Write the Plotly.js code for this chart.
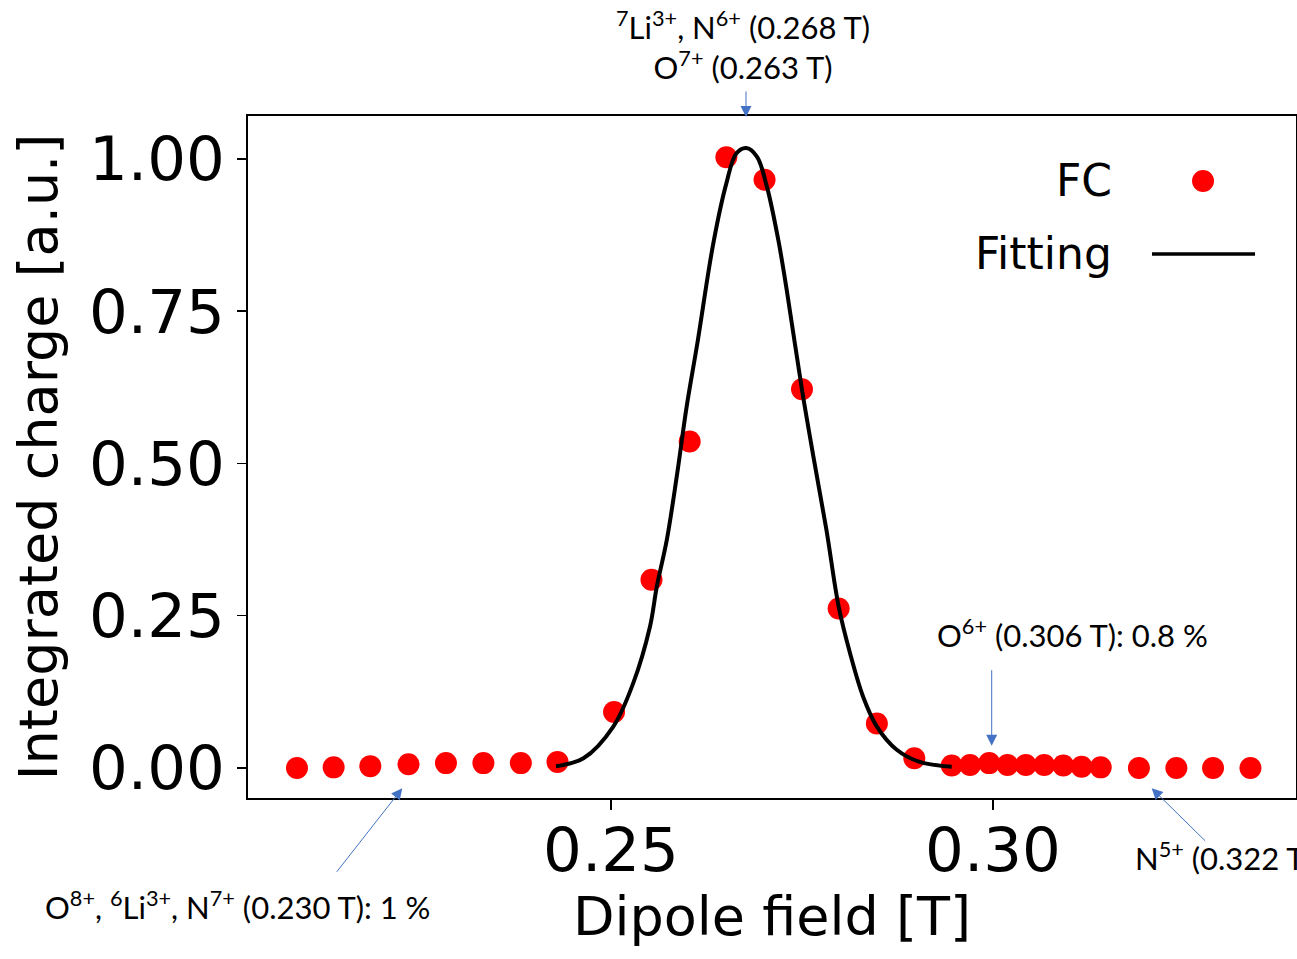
<!DOCTYPE html>
<html>
<head>
<meta charset="utf-8">
<script src="https://cdn.plot.ly/plotly-3.0.1.min.js"></script>
<style>
  html, body { margin: 0; padding: 0; background: #ffffff; }
  #chart { width: 1297px; height: 959px; }
</style>
</head>
<body>
<div id="chart"></div>
<script>
// Faraday cup (FC) measured points
const fcField = [0.2089, 0.2137, 0.2185, 0.2235, 0.2284, 0.2333, 0.2382, 0.2430,
  0.2504, 0.2553, 0.2603, 0.2651, 0.2701, 0.2750, 0.2798, 0.2848, 0.2897,
  0.2946, 0.2970, 0.2995, 0.3019, 0.3043, 0.3067, 0.3092, 0.3116, 0.3141,
  0.3191, 0.3240, 0.3288, 0.3337];
const fcCharge = [0.000, 0.001, 0.003, 0.006, 0.008, 0.008, 0.008, 0.010,
  0.092, 0.309, 0.536, 1.003, 0.966, 0.622, 0.262, 0.073, 0.016,
  0.004, 0.005, 0.008, 0.005, 0.005, 0.005, 0.004, 0.002, 0.001,
  0.000, 0.000, 0.000, 0.000];

// Fitting curve
const fitField = [0.2428, 0.2464, 0.2503, 0.2529, 0.2551, 0.2560, 0.2573, 0.2586,
  0.2599, 0.2613, 0.2634, 0.2651, 0.2664, 0.2677, 0.2691, 0.2704, 0.2719,
  0.2730, 0.2750, 0.2765, 0.2782, 0.2798, 0.2813, 0.2830, 0.2848, 0.2874,
  0.2904, 0.2946];
const fitCharge = [0.003, 0.016, 0.068, 0.139, 0.232, 0.298, 0.374, 0.478,
  0.593, 0.697, 0.862, 0.960, 1.009, 1.018, 1.004, 0.955, 0.867,
  0.785, 0.621, 0.511, 0.391, 0.265, 0.188, 0.117, 0.068, 0.030,
  0.010, 0.002];

const xTicks = [0.25, 0.30];
const yTicks = [0.00, 0.25, 0.50, 0.75, 1.00];
const legendLabels = ['FC', 'Fitting'];

const notes = {
  top: '<sup>7</sup>Li<sup>3+</sup>, N<sup>6+</sup> (0.268 T)<br>O<sup>7+</sup> (0.263 T)',
  o6: 'O<sup>6+</sup> (0.306 T): 0.8 %',
  o8: 'O<sup>8+</sup>, <sup>6</sup>Li<sup>3+</sup>, N<sup>7+</sup> (0.230 T): 1 %',
  n5: 'N<sup>5+</sup> (0.322 T)'
};

const blue = '#4472C4';
const noteFont = {family: 'Lato, "Open Sans", sans-serif', size: 31, color: '#000000'};
const legFont = {family: '"DejaVu Sans", sans-serif', size: 44, color: '#000000'};

const traces = [
  {
    x: fcField, y: fcCharge, type: 'scatter', mode: 'markers', name: legendLabels[0],
    marker: {color: '#FF0000', size: 22}, showlegend: false, cliponaxis: false
  },
  {
    x: fitField, y: fitCharge, type: 'scatter', mode: 'lines', name: legendLabels[1],
    line: {color: '#000000', width: 4, shape: 'spline', smoothing: 1.0}, showlegend: false
  }
];

function arrow(x, y, ax, ay) {
  return {x: x, y: y, xref: 'x', yref: 'y', ax: ax, ay: ay, text: ' ', showarrow: true,
    arrowhead: 2, arrowsize: 2.2, arrowwidth: 1, arrowcolor: blue, standoff: 0, startstandoff: 0};
}

const layout = {
  width: 1297, height: 959,
  margin: {l: 248, r: 1, t: 116, b: 161, pad: 0},
  paper_bgcolor: '#ffffff', plot_bgcolor: '#ffffff',
  showlegend: false,
  font: {family: '"DejaVu Sans", sans-serif', color: '#000000'},
  xaxis: {
    range: [0.20249, 0.33966], tickvals: xTicks, tickformat: '.2f',
    showgrid: false, zeroline: false, showline: true, mirror: true,
    linecolor: '#000000', linewidth: 2,
    ticks: 'outside', ticklen: 10, tickwidth: 1.5, tickcolor: '#000000',
    ticklabelstandoff: -12,
    tickfont: {family: '"DejaVu Sans", sans-serif', size: 61, color: '#000000'},
    title: {text: 'Dipole field [T]', font: {family: '"DejaVu Sans", sans-serif', size: 54, color: '#000000'}, standoff: 8}
  },
  yaxis: {
    range: [-0.0493, 1.0706], tickvals: yTicks, tickformat: '.2f',
    showgrid: false, zeroline: false, showline: true, mirror: true,
    linecolor: '#000000', linewidth: 2,
    ticks: 'outside', ticklen: 9, tickwidth: 1.5, tickcolor: '#000000',
    tickfont: {family: '"DejaVu Sans", sans-serif', size: 61, color: '#000000'},
    title: {text: 'Integrated charge [a.u.]', font: {family: '"DejaVu Sans", sans-serif', size: 54, color: '#000000'}, standoff: 14}
  },
  annotations: [
    {text: notes.top, xref: 'paper', yref: 'paper', x: 0.4725, y: 1.104, xanchor: 'center', yanchor: 'middle', align: 'center', showarrow: false, font: noteFont},
    {text: notes.o6, xref: 'paper', yref: 'paper', x: 0.7867, y: 0.2419, xanchor: 'center', yanchor: 'middle', showarrow: false, font: noteFont},
    {text: notes.o8, xref: 'paper', yref: 'paper', x: -0.1956, y: -0.1569, xanchor: 'left', yanchor: 'middle', showarrow: false, font: noteFont},
    {text: notes.n5, xref: 'paper', yref: 'paper', x: 0.8445, y: -0.0865, xanchor: 'left', yanchor: 'middle', showarrow: false, font: noteFont},
    arrow(0.26767, 1.0690, 0, -34),
    arrow(0.29983, 0.0366, 0, -84),
    arrow(0.22268, -0.0333, -69, 88),
    arrow(0.32077, -0.0333, 57, 56),
    {text: legendLabels[0], xref: 'paper', yref: 'paper', x: 0.8263, y: 0.9047, xanchor: 'right', yanchor: 'middle', showarrow: false, font: legFont},
    {text: legendLabels[1], xref: 'paper', yref: 'paper', x: 0.8263, y: 0.7977, xanchor: 'right', yanchor: 'middle', showarrow: false, font: legFont}
  ],
  shapes: [
    {type: 'circle', xref: 'paper', yref: 'paper', x0: 0.9008, x1: 0.9218, y0: 0.8886, y1: 0.9208,
      fillcolor: '#FF0000', line: {width: 0}},
    {type: 'line', xref: 'paper', yref: 'paper', x0: 0.8626, x1: 0.9609, y0: 0.7977, y1: 0.7977,
      line: {color: '#000000', width: 3.5}}
  ]
};

Plotly.newPlot('chart', traces, layout, {displayModeBar: false, staticPlot: true});
</script>
</body>
</html>
